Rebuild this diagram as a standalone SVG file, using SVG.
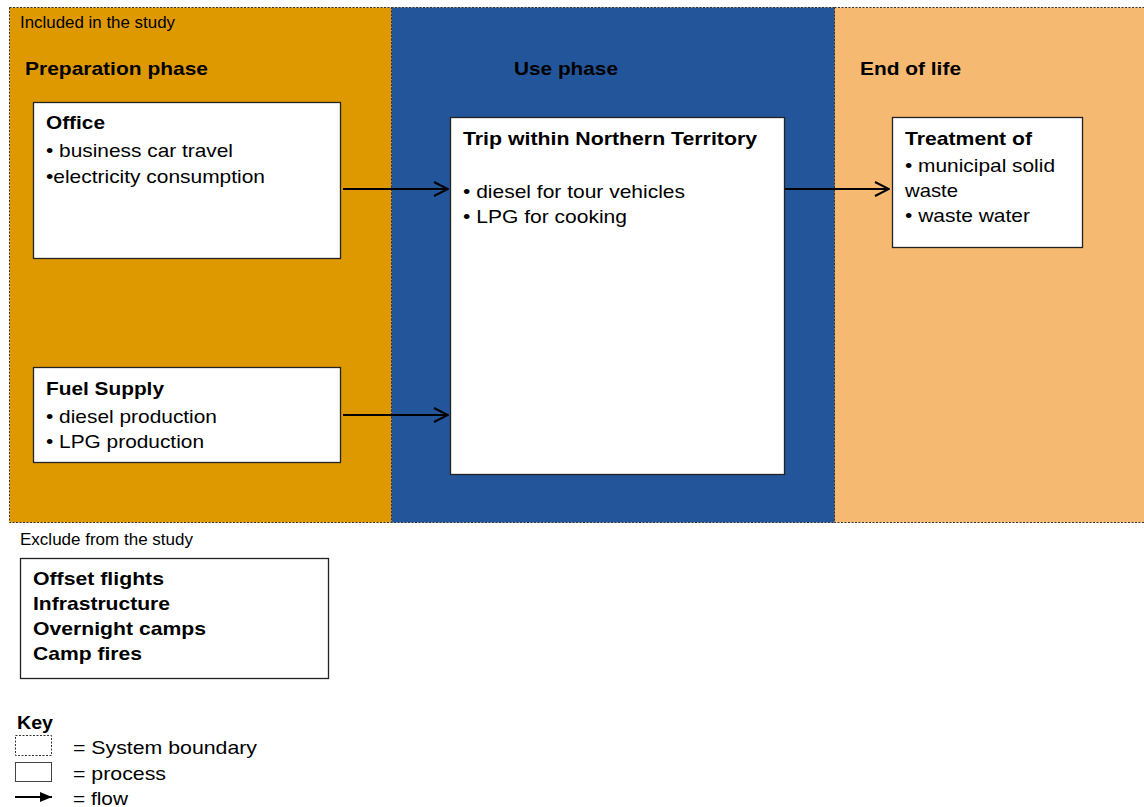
<svg xmlns="http://www.w3.org/2000/svg" width="1144" height="807" viewBox="0 0 1144 807">
<defs>
<style>
text{font-family:"Liberation Sans",Arial,sans-serif;fill:#000;}
.b{font-weight:bold;font-size:19px;}
.r{font-size:19px;}
.s{font-size:16px;}
.panel{stroke:#333;stroke-width:1;stroke-dasharray:2,1.5;}
.box{fill:#fff;stroke:#222;stroke-width:1.3;}
.flow{stroke:#000;stroke-width:2;fill:none;}
</style>
<marker id="open" viewBox="0 0 16 16" refX="15" refY="8" markerWidth="16" markerHeight="16" markerUnits="userSpaceOnUse" orient="auto">
<path d="M1,1 L15,8 L1,15" fill="none" stroke="#000" stroke-width="2"/>
</marker>
<marker id="solid" viewBox="0 0 12 10" refX="12" refY="5" markerWidth="12" markerHeight="10" markerUnits="userSpaceOnUse" orient="auto">
<path d="M0,0 L12,5 L0,10 Z" fill="#000"/>
</marker>
</defs>
<rect width="1144" height="807" fill="#fff"/>
<g id="panels">
<rect class="panel" x="9.5" y="7.5" width="382" height="515" fill="#DF9900"/>
<rect class="panel" x="391.5" y="7.5" width="443" height="515" fill="#23559B"/>
<rect class="panel" x="834.5" y="7.5" width="312" height="515" fill="#F5B971"/>
<text class="s" x="20" y="28" textLength="155" lengthAdjust="spacingAndGlyphs">Included in the study</text>
<text class="b" x="25" y="75" textLength="183" lengthAdjust="spacingAndGlyphs">Preparation phase</text>
<text class="b" x="514" y="75" textLength="104" lengthAdjust="spacingAndGlyphs">Use phase</text>
<text class="b" x="860" y="75" textLength="101" lengthAdjust="spacingAndGlyphs">End of life</text>
</g>
<g id="office">
<rect class="box" x="33.5" y="102.5" width="307" height="156"/>
<text class="b" x="46" y="129" textLength="59" lengthAdjust="spacingAndGlyphs">Office</text>
<text class="r" x="46" y="157" textLength="187" lengthAdjust="spacingAndGlyphs">• business car travel</text>
<text class="r" x="46" y="183" textLength="219" lengthAdjust="spacingAndGlyphs">•electricity consumption</text>
</g>
<g id="fuel">
<rect class="box" x="33.5" y="367.5" width="307" height="95"/>
<text class="b" x="46" y="395" textLength="118" lengthAdjust="spacingAndGlyphs">Fuel Supply</text>
<text class="r" x="46" y="423" textLength="171" lengthAdjust="spacingAndGlyphs">• diesel production</text>
<text class="r" x="46" y="448" textLength="158" lengthAdjust="spacingAndGlyphs">• LPG production</text>
</g>
<g id="trip">
<rect class="box" x="450.5" y="117.5" width="334" height="357"/>
<text class="b" x="463" y="145" textLength="294" lengthAdjust="spacingAndGlyphs">Trip within Northern Territory</text>
<text class="r" x="463" y="198" textLength="222" lengthAdjust="spacingAndGlyphs">• diesel for tour vehicles</text>
<text class="r" x="463" y="223" textLength="164" lengthAdjust="spacingAndGlyphs">• LPG for cooking</text>
</g>
<g id="treatment">
<rect class="box" x="892.5" y="117.5" width="190" height="130"/>
<text class="b" x="905" y="145" textLength="127" lengthAdjust="spacingAndGlyphs">Treatment of</text>
<text class="r" x="905" y="172" textLength="150" lengthAdjust="spacingAndGlyphs">• municipal solid</text>
<text class="r" x="905" y="197" textLength="53" lengthAdjust="spacingAndGlyphs">waste</text>
<text class="r" x="905" y="222" textLength="125" lengthAdjust="spacingAndGlyphs">• waste water</text>
</g>
<g id="connectors">
<line class="flow" x1="343" y1="189" x2="448" y2="189" marker-end="url(#open)"/>
<line class="flow" x1="343" y1="415" x2="448" y2="415" marker-end="url(#open)"/>
<line class="flow" x1="785" y1="189" x2="889" y2="189" marker-end="url(#open)"/>
</g>
<g id="excluded">
<text class="s" x="20" y="545" textLength="173" lengthAdjust="spacingAndGlyphs">Exclude from the study</text>
<rect class="box" x="20.5" y="558.5" width="308" height="120"/>
<text class="b" x="33" y="585" textLength="131" lengthAdjust="spacingAndGlyphs">Offset flights</text>
<text class="b" x="33" y="610" textLength="137" lengthAdjust="spacingAndGlyphs">Infrastructure</text>
<text class="b" x="33" y="635" textLength="173" lengthAdjust="spacingAndGlyphs">Overnight camps</text>
<text class="b" x="33" y="660" textLength="109" lengthAdjust="spacingAndGlyphs">Camp fires</text>
</g>
<g id="key">
<text class="b" x="17" y="729" textLength="36" lengthAdjust="spacingAndGlyphs">Key</text>
<rect x="15.5" y="735.5" width="36" height="20" fill="#fff" stroke="#333" stroke-width="1" stroke-dasharray="2,1.5"/>
<text class="r" x="73" y="754" textLength="184" lengthAdjust="spacingAndGlyphs">= System boundary</text>
<rect x="15.5" y="762.5" width="36" height="19" fill="#fff" stroke="#444" stroke-width="1"/>
<text class="r" x="73" y="780" textLength="93" lengthAdjust="spacingAndGlyphs">= process</text>
<line x1="15" y1="797" x2="52" y2="797" stroke="#000" stroke-width="2" marker-end="url(#solid)"/>
<text class="r" x="73" y="805" textLength="55" lengthAdjust="spacingAndGlyphs">= flow</text>
</g>
</svg>
